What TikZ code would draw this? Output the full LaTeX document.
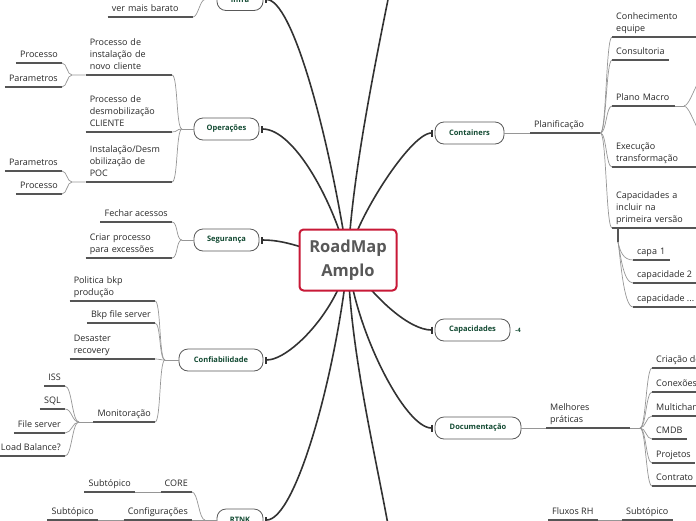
\documentclass[tikz,border=0pt]{standalone}
\usepackage{fontspec}
\setmainfont{Open Sans}
\usetikzlibrary{arrows.meta,backgrounds}
\definecolor{topicgreen}{RGB}{18,74,50}
\definecolor{trunkcol}{RGB}{50,50,50}
\definecolor{twiggray}{RGB}{150,150,150}
\definecolor{ulgray}{RGB}{85,85,85}
\definecolor{rootred}{RGB}{200,25,55}
\definecolor{roottext}{RGB}{88,88,88}
\definecolor{leaftext}{RGB}{40,40,40}
\newcommand\leafstrut{\vrule width 0pt height 0pt depth 2.6pt\relax}
\tikzset{
  rootbox/.style={draw=rootred, line width=2pt, rounded corners=4pt, fill=white,
    minimum width=97pt, minimum height=61pt, align=center, text=roottext,
    inner sep=2pt, font=\fontsize{16.5}{24}\selectfont\bfseries},
  topic/.style={draw=black!65, line width=0.8pt, fill=white, rounded corners=9pt,
    minimum height=22pt, inner xsep=3pt, inner ysep=2pt, text=topicgreen,
    font=\fontsize{7.5}{9}\selectfont\bfseries},
  badge/.style={text=topicgreen, inner sep=0pt, font=\fontsize{6}{7}\selectfont\bfseries},
  leaf/.style={inner xsep=4pt, inner ysep=2.4pt, align=left, text=leaftext,
    font=\fontsize{9}{12}\selectfont,
    execute at end node={\leafstrut}},
  lleaf/.style={leaf, anchor=south east},
  rleaf/.style={leaf, anchor=south west},
  uline/.style={draw=ulgray, line width=1.2pt},
  twig/.style={draw=twiggray, line width=0.7pt},
  sc/.style={to path={.. controls +(#1,0) and +(-#1,0) .. (\tikztotarget)}},
  ec/.style={to path={.. controls +(2,9) and +(-10,0) .. (\tikztotarget)}},
  trunk/.style={draw=trunkcol, line width=1.6pt},
  mainbranch/.style={trunk, -{Bar[width=7pt]}, shorten >=2pt},
}
\newcommand\leafline[1]{\draw[uline] (#1.south west) -- (#1.south east);}
\begin{document}
\begin{tikzpicture}[x=1pt,y=-1pt]
\useasboundingbox (0,0) rectangle (696,520);
% ---------- root and topics
\node[rootbox] (root) at (348,260) {RoadMap\\Amplo};
\node[topic, minimum width=46pt] (infra) at (240,-0.5) {Infra};
\node[topic, minimum width=65pt] (op) at (226.5,129) {Operações};
\node[topic, minimum width=65pt] (sg) at (226.5,240) {Segurança};
\node[topic, minimum width=84pt] (cf) at (221,360) {Confiabilidade};
\node[topic, minimum width=46pt] (rt) at (240,520) {RTNK};
\node[topic, minimum width=69pt] (ct) at (469.5,133) {Containers};
\node[topic, minimum width=75pt] (cp) at (472.5,330) {Capacidades};
\node[topic, minimum width=86pt] (dc) at (478,428) {Documentação};
\node[badge] (cpn) at (518,330) {-4};
\coordinate (offtop) at (396,-40);
\coordinate (offbot) at (394,560);
% ---------- main branches
\begin{scope}[on background layer]
\draw[mainbranch] (root.center) .. controls (335,205) and (295,129) .. (op.east);
\draw[mainbranch] (root.center) .. controls (328,130) and (292,-0.5) .. (infra.east);
\draw[trunk] (root.center) .. controls (352,170) and (380,40) .. (offtop);
\draw[mainbranch] (root.center) .. controls (352,225) and (410,133) .. (ct.west);
\draw[mainbranch] (root.center) .. controls (310,252) and (290,240) .. (sg.east);
\draw[mainbranch] (root.center) .. controls (338,310) and (290,360) .. (cf.east);
\draw[mainbranch] (root.center) .. controls (335,380) and (295,520) .. (rt.east);
\draw[trunk] (root.center) .. controls (350,360) and (382,480) .. (offbot);
\draw[mainbranch] (root.center) .. controls (355,330) and (405,428) .. (dc.west);
\draw[mainbranch] (root.center) .. controls (375,300) and (410,330) .. (cp.west);
\end{scope}
% ---------- Infra
\coordinate (ifj) at (205,-0.5);
\node[lleaf, text width=77pt] (ifa) at (193,17) {ver mais barato};
\draw[twig] (infra.west) -- (ifj) to[sc=-5] (ifa.south east);
\leafline{ifa}
% ---------- Operações
\coordinate (opj) at (182,129);
\node[lleaf, text width=78pt] (opa) at (172,75) {Processo de\\instalação de\\novo cliente};
\node[lleaf, text width=78pt] (opb) at (172,132) {Processo de\\desmobilização\\CLIENTE};
\node[lleaf, text width=78pt] (opc) at (172,182) {Instalação/Desm\\obilização de\\POC};
\draw[twig] (op.west) -- (opj);
\draw[twig] (opj) to[sc=-6] (opa.south east);
\draw[twig] (opj) to[sc=-6] (opb.south east);
\draw[twig] (opj) to[sc=-6] (opc.south east);
\leafline{opa}\leafline{opb}\leafline{opc}
\coordinate (opaj) at (72,75);
\node[lleaf] (opa1) at (62,63) {Processo};
\node[lleaf] (opa2) at (62,87) {Parametros};
\draw[twig] (opa.south west) -- (opaj) to[sc=-5] (opa1.south east);
\draw[twig] (opaj) to[sc=-5] (opa2.south east);
\leafline{opa1}\leafline{opa2}
\coordinate (opcj) at (72,182);
\node[lleaf] (opc1) at (62,171) {Parametros};
\node[lleaf] (opc2) at (62,194) {Processo};
\draw[twig] (opc.south west) -- (opcj) to[sc=-5] (opc1.south east);
\draw[twig] (opcj) to[sc=-5] (opc2.south east);
\leafline{opc1}\leafline{opc2}
% ---------- Segurança
\coordinate (sgj) at (182,240);
\node[lleaf] (sga) at (172,222) {Fechar acessos};
\node[lleaf, text width=78pt] (sgb) at (172,258) {Criar processo\\para excessões};
\draw[twig] (sg.west) -- (sgj);
\draw[twig] (sgj) to[sc=-6] (sga.south east);
\draw[twig] (sgj) to[sc=-6] (sgb.south east);
\leafline{sga}\leafline{sgb}
% ---------- Confiabilidade
\coordinate (cfj) at (165,360);
\node[lleaf, text width=77pt] (cfa) at (155,301) {Politica bkp\\produção};
\node[lleaf] (cfb) at (155,323) {Bkp file server};
\node[lleaf, text width=77pt] (cfc) at (155,359) {Desaster\\recovery};
\node[lleaf] (cfd) at (155,422) {Monitoração};
\draw[twig] (cf.west) -- (cfj);
\draw[twig] (cfj) to[sc=-6] (cfa.south east);
\draw[twig] (cfj) to[sc=-6] (cfb.south east);
\draw[twig] (cfj) to[sc=-6] (cfc.south east);
\draw[twig] (cfj) to[sc=-6] (cfd.south east);
\leafline{cfa}\leafline{cfb}\leafline{cfc}\leafline{cfd}
\coordinate (cfdj) at (79,422);
\node[lleaf] (cfd1) at (65,386) {ISS};
\node[lleaf] (cfd2) at (65,409) {SQL};
\node[lleaf] (cfd3) at (65,433) {File server};
\node[lleaf] (cfd4) at (65,456) {Load Balance?};
\draw[twig] (cfd.south west) -- (cfdj);
\draw[twig] (cfdj) to[sc=-7] (cfd1.south east);
\draw[twig] (cfdj) to[sc=-7] (cfd2.south east);
\draw[twig] (cfdj) to[sc=-7] (cfd3.south east);
\draw[twig] (cfdj) to[sc=-7] (cfd4.south east);
\leafline{cfd1}\leafline{cfd2}\leafline{cfd3}\leafline{cfd4}
% ---------- RTNK
\coordinate (rtj) at (205,520);
\node[lleaf] (rta) at (192,492) {CORE};
\node[lleaf] (rta1) at (135,492) {Subtópico};
\node[lleaf] (rtb) at (192,520) {Configurações};
\node[lleaf] (rtb1) at (98,520) {Subtópico};
\draw[twig] (rt.west) -- (rtj);
\draw[twig] (rtj) to[sc=-6] (rta.south east);
\draw[twig] (rtj) -- (rtb.south east);
\draw[twig] (rta.south west) -- (rta1.south east);
\draw[twig] (rtb.south west) -- (rtb1.south east);
\leafline{rta}\leafline{rta1}\leafline{rtb}\leafline{rtb1}
% ---------- Containers
\node[rleaf, text width=62pt] (pl) at (530,133) {Planificação};
\draw[twig] (ct.east) -- (pl.south west);
\leafline{pl}
\node[rleaf, text width=78pt] (pa) at (612,37) {Conhecimento\\equipe};
\node[rleaf] (pb) at (612,60) {Consultoria};
\node[rleaf, text width=55pt] (pc) at (612,106) {Plano Macro};
\node[rleaf, text width=78pt] (pd) at (612,167) {Execução\\transformação};
\node[rleaf, text width=78pt] (pe) at (612,228) {Capacidades a\\incluir na\\primeira versão};
\draw[twig] (pl.south east) to[sc=6] (pa.south west);
\draw[twig] (pl.south east) to[sc=6] (pb.south west);
\draw[twig] (pl.south east) to[sc=6] (pc.south west);
\draw[twig] (pl.south east) to[sc=6] (pd.south west);
\draw[twig] (pl.south east) to[sc=6] (pe.south west);
\leafline{pa}\leafline{pb}\leafline{pc}\leafline{pd}\leafline{pe}
\coordinate (pmj) at (684,106);
\coordinate (pmu) at (703,78);
\coordinate (pmd) at (703,134);
\draw[twig] (pc.south east) -- (pmj);
\draw[twig] (pmj) to[sc=6] (pmu);
\draw[twig] (pmj) to[sc=6] (pmd);
\coordinate (pek) at (618,228);
\coordinate (pej) at (618,242);
\draw[uline] (pek) -- (pej);
\node[rleaf, text width=29pt] (pe1) at (633,260) {capa 1};
\node[rleaf] (pe2) at (633,283) {capacidade 2};
\node[rleaf] (pe3) at (633,307) {capacidade ...};
\draw[twig] (pej) to[ec] (pe1.south west);
\draw[twig] (pej) to[ec] (pe2.south west);
\draw[twig] (pej) to[ec] (pe3.south west);
\leafline{pe1}\leafline{pe2}\leafline{pe3}
% ---------- Documentação
\node[rleaf, text width=76pt] (mp) at (546,428) {Melhores\\práticas};
\draw[twig] (dc.east) -- (mp.south west);
\leafline{mp}
\coordinate (mpj) at (640,428);
\draw[twig] (mp.south east) -- (mpj);
\node[rleaf] (da) at (652,368) {Criação de};
\node[rleaf] (db) at (652,392) {Conexões};
\node[rleaf] (dd) at (652,416) {Multichannel};
\node[rleaf] (de) at (652,439) {CMDB};
\node[rleaf] (df) at (652,463) {Projetos};
\node[rleaf] (dg) at (652,486) {Contrato};
\foreach \n in {da,db,dd,de,df,dg}{
  \draw[twig] (mpj) to[sc=6] (\n.south west);
  \leafline{\n}
}
% ---------- bottom right
\node[rleaf] (fx) at (548,520) {Fluxos RH};
\node[rleaf] (fxs) at (622,520) {Subtópico};
\draw[twig] (fx.south east) -- (fxs.south west);
\leafline{fx}\leafline{fxs}
\end{tikzpicture}
\end{document}
